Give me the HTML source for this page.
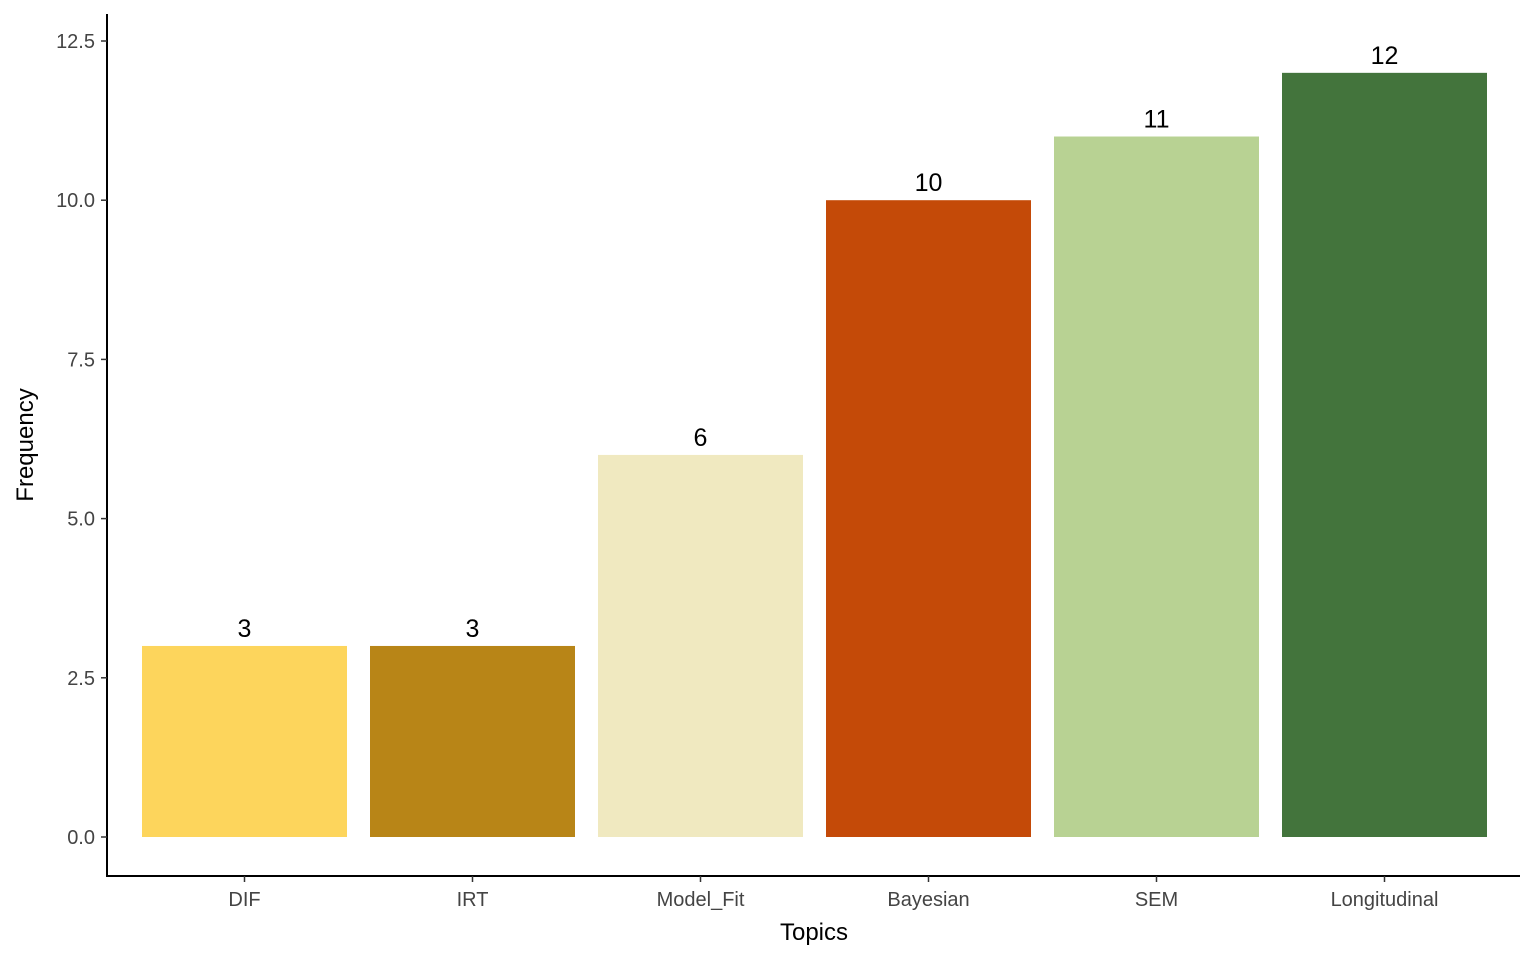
<!DOCTYPE html>
<html><head><meta charset="utf-8"><style>
html,body{margin:0;padding:0;background:#fff;}
svg{display:block;font-family:"Liberation Sans",Arial,sans-serif;}
</style></head><body>
<svg id="chart" width="1536" height="960" viewBox="0 0 1536 960">
<g id="bars"></g>
<g id="yaxis">
<line x1="107" y1="14" x2="107" y2="876" stroke="#000" stroke-width="2"/>
</g>
<g id="xaxis">
<line x1="106" y1="876" x2="1520" y2="876" stroke="#000" stroke-width="2"/>
</g>
<text x="814" y="940" text-anchor="middle" font-size="24" fill="#000">Topics</text>
<text transform="translate(33,445) rotate(-90)" text-anchor="middle" font-size="24" fill="#000">Frequency</text>
</svg>
<script>
const categories = ["DIF","IRT","Model_Fit","Bayesian","SEM","Longitudinal"];
const values = [3,3,6,10,11,12];
const colors = ["#FDD55C","#B88517","#F0E9C0","#C44A08","#B8D293","#43743C"];
const yTicks = [0,2.5,5,7.5,10,12.5];
const yTickLabels = ["0.0","2.5","5.0","7.5","10.0","12.5"];

const NS="http://www.w3.org/2000/svg";
function y(v){return 837 - v*63.68;}
function xc(i){return 244.5 + i*228;}
const bw=205;
const bars=document.getElementById('bars');
const yaxis=document.getElementById('yaxis');
const xaxis=document.getElementById('xaxis');
function mk(tag,attrs,parent){const e=document.createElementNS(NS,tag);for(const k in attrs)e.setAttribute(k,attrs[k]);parent.appendChild(e);return e;}
categories.forEach((c,i)=>{
  const r=mk('rect',{x:xc(i)-bw/2,y:y(values[i]),width:bw,height:y(0)-y(values[i]),fill:colors[i]},bars);
  
  
  const t=mk('text',{x:xc(i),y:y(values[i])-9,'text-anchor':'middle','font-size':'25',fill:'#000'},bars);
  t.textContent=values[i];
  
  
  const tk=mk('line',{x1:xc(i),x2:xc(i),y1:876,y2:882,stroke:'#333','stroke-width':1.5},xaxis);
  
  
  const l=mk('text',{x:xc(i),y:906,'text-anchor':'middle','font-size':'20',fill:'#444'},xaxis);
  l.textContent=c;
  
  
});
yTicks.forEach((v,i)=>{
  const tk=mk('line',{x1:101,x2:107,y1:y(v),y2:y(v),stroke:'#333','stroke-width':1.5},yaxis);
  
  
  const l=mk('text',{x:95,y:y(v)+7,'text-anchor':'end','font-size':'20',fill:'#444'},yaxis);
  l.textContent=yTickLabels[i];
  
  
});
</script>
</body></html>
